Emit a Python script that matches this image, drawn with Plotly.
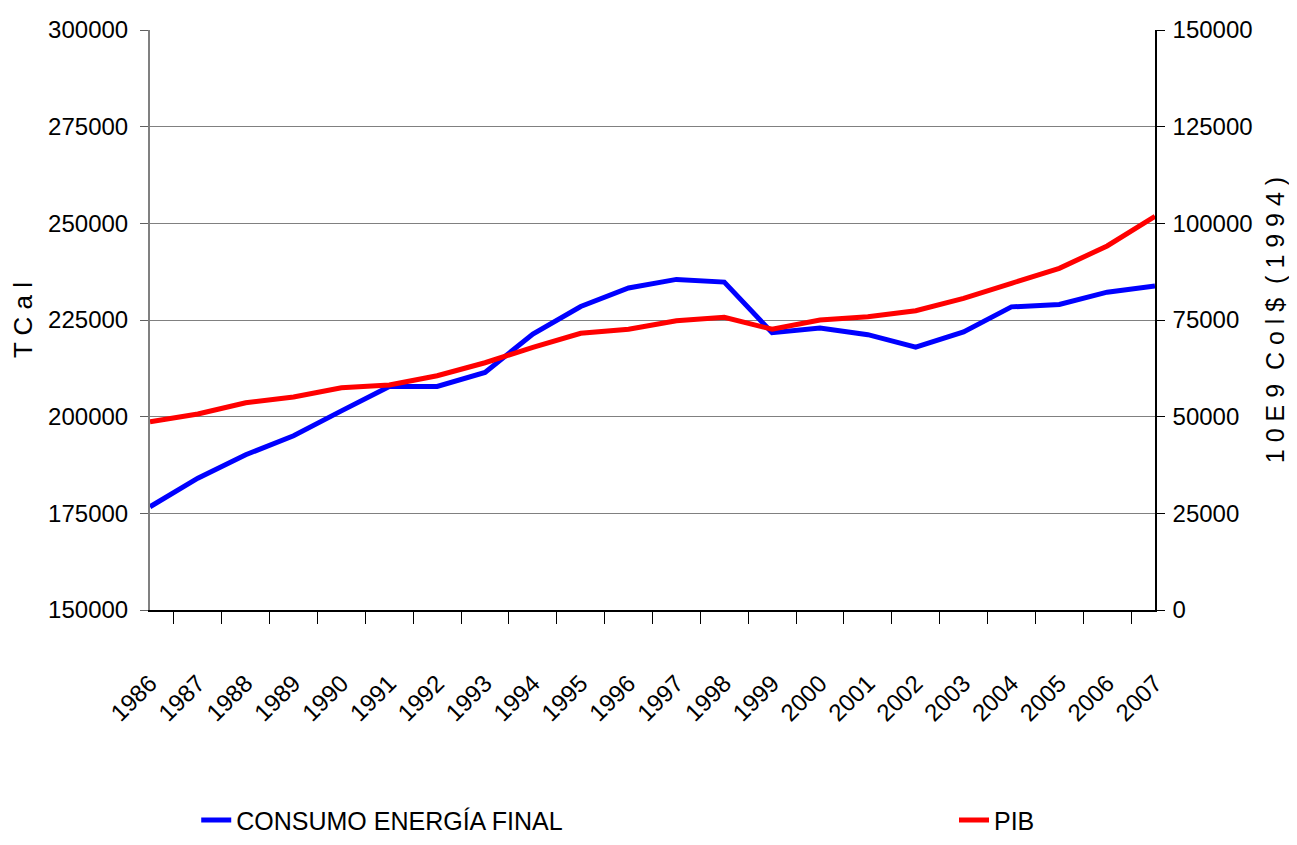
import plotly.graph_objects as go

years = [str(y) for y in range(1986, 2008)]
consumo = [176700, 184100, 190150, 195060, 201500, 207800, 207800, 211450, 221350,
           228500, 233270, 235500, 234800, 221700, 222900, 221200, 218000, 221900,
           228400, 229000, 232200, 233800]
pib = [48700, 50690, 53610, 55080, 57490, 58190, 60590, 63950, 67930,
       71560, 72600, 74820, 75700, 72600, 75000, 75860, 77400, 80610,
       84490, 88360, 94140, 101800]

FONT = "Liberation Sans Narrow, Arial Narrow, Liberation Sans, Arial, sans-serif"
TICK = 24

fig = go.Figure()
fig.add_trace(go.Scatter(x=years, y=consumo, name="CONSUMO ENERGÍA FINAL", mode="lines",
                         line=dict(color="#0000FF", width=5), yaxis="y", legend="legend"))
fig.add_trace(go.Scatter(x=years, y=pib, name="PIB", mode="lines",
                         line=dict(color="#FF0000", width=5), yaxis="y2", legend="legend2"))

leg_common = dict(orientation="h", y=-0.402, yanchor="bottom", xanchor="left",
                  borderwidth=0,
                  font=dict(family=FONT, size=25), bgcolor="rgba(0,0,0,0)")

fig.update_layout(
    width=1281, height=829,
    margin=dict(l=142, r=134, t=22, b=227, autoexpand=False),
    paper_bgcolor="white", plot_bgcolor="white",
    font=dict(family=FONT, size=TICK, color="black"),
    showlegend=True,
    legend=dict(x=0.046, **leg_common),
    legend2=dict(x=0.80, **leg_common),
    xaxis=dict(type="category", tickangle=-45, tickson="boundaries",
               ticks="outside", ticklen=12, tickcolor="black", tickwidth=1,
               showline=True, linecolor="black", linewidth=1.5,
               showgrid=False, ticklabelstandoff=48, automargin=False,
               tickfont=dict(family=FONT, size=TICK)),
    yaxis=dict(range=[150000, 300000], dtick=25000, tick0=150000,
               showgrid=True, gridcolor="#808080", gridwidth=1,
               showline=True, linecolor="#808080", linewidth=2,
               ticks="outside", ticklen=8, tickcolor="#606060",
               tickformat="d", zeroline=False, automargin=False,
               ticklabelstandoff=7,
               title=dict(text="T C a l", standoff=8, font=dict(family=FONT, size=26)),
               tickfont=dict(family=FONT, size=TICK)),
    yaxis2=dict(range=[0, 150000], dtick=25000, tick0=0, overlaying="y", side="right",
                showgrid=False, showline=True, linecolor="black", linewidth=1.5,
                ticks="outside", ticklen=8, tickcolor="black",
                tickformat="d", zeroline=False, automargin=False,
                ticklabelstandoff=3,
                title=dict(text="1 0 E 9  C o l $  ( 1 9 9 4 )", standoff=18,
                           font=dict(family=FONT, size=25)),
                tickfont=dict(family=FONT, size=TICK)),
)

fig.write_html("out.html")
